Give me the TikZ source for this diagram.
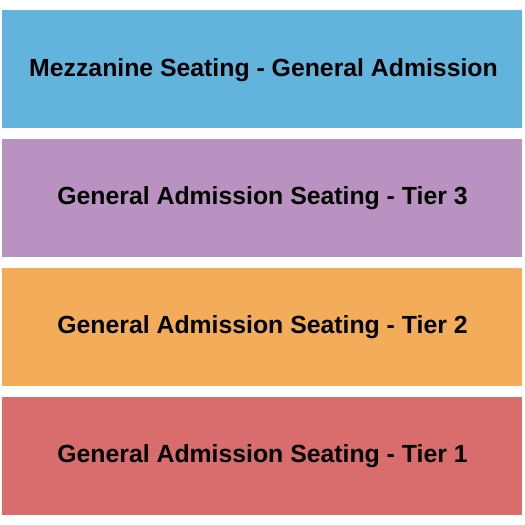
\documentclass[tikz,border=0pt]{standalone}
\usepackage{fontspec}
\setmainfont{Liberation Sans}
\definecolor{cblue}{RGB}{98,180,220}
\definecolor{cpurple}{RGB}{185,146,193}
\definecolor{corange}{RGB}{243,173,90}
\definecolor{cred}{RGB}{217,108,108}
\tikzset{
  section/.style={inner sep=0pt, outer sep=0pt, minimum width=520pt, minimum height=118pt, anchor=north west},
  lbl/.style={font=\fontsize{24.8}{28}\selectfont\bfseries, text=black, inner sep=0pt, anchor=base}
}
\begin{document}
\begin{tikzpicture}[x=1pt,y=-1pt]
\useasboundingbox (0,0) rectangle (525,525);
\fill[white] (0,0) rectangle (525,525);
\node[section, fill=cblue] (mezz) at (2,10) {};
\node[section, fill=cpurple] (t3) at (2,139) {};
\node[section, fill=corange] (t2) at (2,268) {};
\node[section, fill=cred] (t1) at (2,397) {};
\node[lbl] (lmezz) at (263.5,76) {Mezzanine Seating - General Admission};
\node[lbl] (lt3) at (262.5,204) {General Admission Seating - Tier 3};
\node[lbl] (lt2) at (262.5,333) {General Admission Seating - Tier 2};
\node[lbl] (lt1) at (262.5,462) {General Admission Seating - Tier 1};
\end{tikzpicture}
\end{document}
